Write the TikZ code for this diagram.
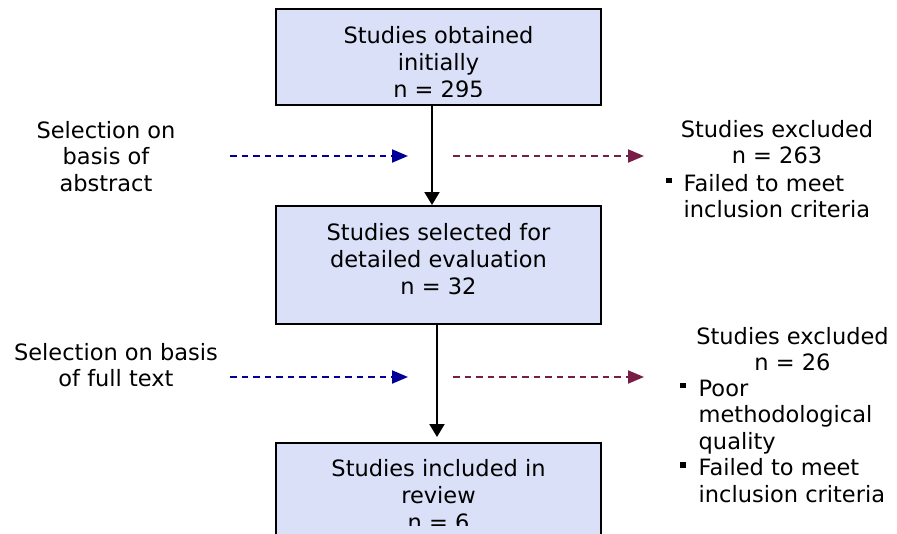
\documentclass[tikz,border=0pt]{standalone}
\usepackage{fontspec}
\setmainfont{DejaVu Sans}
\usetikzlibrary{arrows.meta,positioning}

\definecolor{boxfill}{RGB}{217,224,247}
\definecolor{selblue}{RGB}{0,0,150}
\definecolor{exclred}{RGB}{120,30,70}
\newcommand{\sqbul}{\rule[8pt]{5.5pt}{5.5pt}}

\begin{document}
\begin{tikzpicture}[x=1pt, y=-1pt, font=\fontsize{22.5}{26.5}\selectfont]
\tikzset{stage/.style={draw, line width=2pt, fill=boxfill, minimum width=325pt, inner sep=0pt},
  txt/.style={align=center, inner sep=0pt, anchor=north},
  stagetxt/.style={txt, font=\fontsize{22.5}{27}\selectfont},
  reasons/.style={anchor=north west, inner sep=0pt},
  flow/.style={line width=2pt, -{Triangle[length=13pt,width=15pt]}},
  sel/.style={selblue, line width=2pt, dash pattern=on 6.5pt off 5pt, -{Triangle[length=16pt,width=13pt]}},
  excl/.style={sel, exclred}}

\useasboundingbox (0,0) rectangle (897,533);
\clip (0,0) rectangle (897,533);

% Stages
\node[stage, minimum height=96pt] (obtained) at (438.5,57) {};
\node[stage, minimum height=118pt] (selected) at (438.5,265) {};
\node[stage, minimum height=92pt] (included) at (438.5,489) {};

\begin{scope}
\clip (obtained.north west) rectangle ([yshift=10pt]obtained.south east);
\node[stagetxt] (obtainedtxt) at ([yshift=-18.5pt]obtained.north)
{Studies obtained\\initially\\n = 295};
\end{scope}

\node[stagetxt] (selectedtxt) at ([yshift=-18pt]selected.north)
{Studies selected for\\detailed evaluation\\n = 32};

\begin{scope}
\clip (included.north west) rectangle ([yshift=11pt]included.south east);
\node[stagetxt] (includedtxt) at ([yshift=-17pt]included.north)
{Studies included in\\review\\n = 6};
\end{scope}

% Selection steps
\node[txt] (abstractsel) at (106,121) {Selection on\\basis of\\abstract};
\node[txt] (fulltextsel) at (116,343) {Selection on basis\\of full text};

% Exclusions
\node[txt] (excludedA) at (777,120) {Studies excluded\\n = 263};
\node[reasons] (reasonsA) at (666,172.5)
{\begin{tabular}{@{}l@{\hspace{12pt}}l@{}}\sqbul & Failed to meet\\ & inclusion criteria\end{tabular}};

\node[txt] (excludedB) at (792.5,327) {Studies excluded\\n = 26};
\node[reasons] (reasonsB) at (680,377.5)
{\begin{tabular}{@{}l@{\hspace{13pt}}l@{}}\sqbul & Poor\\ & methodological\\ & quality\\
\sqbul & Failed to meet\\ & inclusion criteria\end{tabular}};

% Connections
\draw[flow] ([xshift=-6.5pt]obtained.south) -- ([xshift=-6.5pt]selected.north);
\draw[flow, shorten >=5pt] ([xshift=-1.5pt]selected.south) -- ([xshift=-1.5pt]included.north);

\coordinate (selA1) at (230,156);
\coordinate (selA2) at (408,156);
\coordinate (exA1) at (453,156);
\coordinate (exA2) at (644,156);
\coordinate (selB1) at (230,377);
\coordinate (selB2) at (408,377);
\coordinate (exB1) at (453,377);
\coordinate (exB2) at (644,377);

\draw[sel] (selA1) -- (selA2);
\draw[excl] (exA1) -- (exA2);
\draw[sel] (selB1) -- (selB2);
\draw[excl] (exB1) -- (exB2);

\end{tikzpicture}
\end{document}
